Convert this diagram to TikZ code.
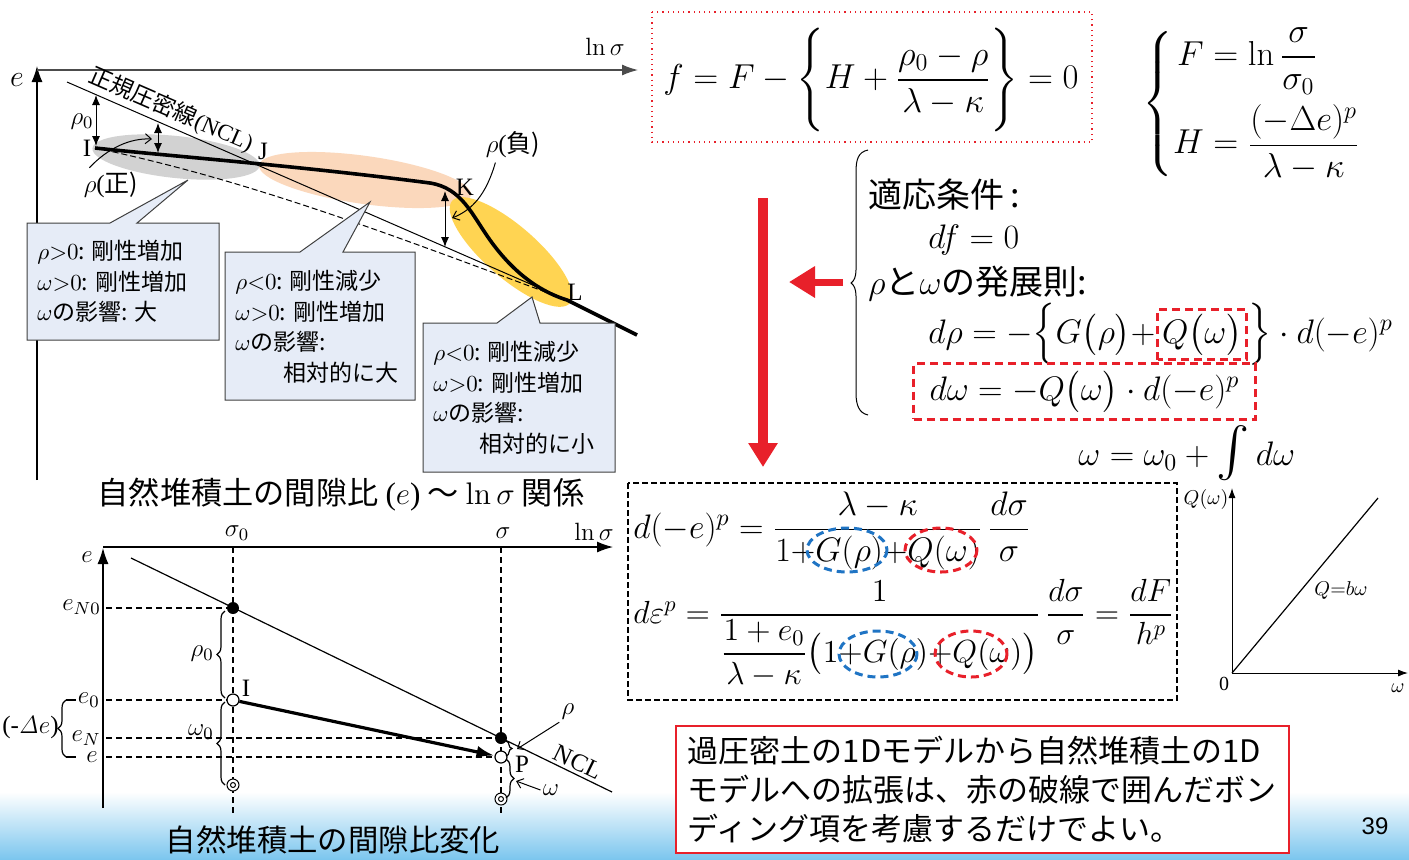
\RequirePackage{fix-cm}
\documentclass[tikz,border=0pt]{standalone}
\usepackage{amsmath}
\usepackage[no-math]{fontspec}
\setmainfont{Liberation Serif}
\newfontfamily\jp{Noto Sans CJK JP}
\newfontfamily\arial{Liberation Sans}
\usetikzlibrary{arrows.meta, positioning, calc, decorations.pathreplacing}
\definecolor{slidered}{HTML}{E8202A}
\definecolor{bondblue}{HTML}{1F74C4}
\definecolor{calloutblue}{HTML}{E6ECF7}
\definecolor{posgray}{HTML}{D2D2D2}
\definecolor{negpeach}{HTML}{FBD8BC}
\definecolor{softgold}{HTML}{FFD452}
\definecolor{bandblue}{HTML}{7CC6EE}
\tikzset{
  axisline/.style={line width=0.6pt, -{Latex[length=8pt,width=5.5pt]}},
  thinaxis/.style={line width=0.5pt, -{Latex[length=5pt,width=3.5pt]}},
  guide/.style={dash pattern=on 3pt off 2pt, line width=0.6pt},
  callout/.style={draw=black!75, fill=calloutblue, line width=0.5pt},
  calltext/.style={anchor=north west, align=left, inner sep=0pt, font=\jp\fontsize{11.5}{15.3}\selectfont},
  dimarrow/.style={line width=0.5pt, {Latex[length=5pt,width=4pt]}-{Latex[length=5pt,width=4pt]}},
  ptr/.style={line width=0.5pt, -{Straight Barb[length=3pt,width=5pt]}},
  lab/.style={font=\rmfamily\fontsize{12.5}{15}\selectfont, inner sep=1pt},
  smalllab/.style={font=\rmfamily\fontsize{10}{12}\selectfont, inner sep=1pt},
  eqn/.style={font=\jp\fontsize{17}{20}\selectfont, inner sep=0pt},
  eqbox/.style={font=\jp\fontsize{17}{20}\selectfont, inner sep=0pt},
  bondred/.style={draw=slidered, dash pattern=on 4pt off 2.5pt, line width=1.5pt},
  bondblu/.style={draw=bondblue, dash pattern=on 4pt off 2.5pt, line width=1.5pt},
  redarrow/.style={draw=slidered, line width=5pt, -{Triangle[length=12pt,width=14pt]}},
  dot/.style={circle, fill, inner sep=0pt, minimum size=6pt},
  hole/.style={circle, draw, fill=white, inner sep=0pt, minimum size=6pt, line width=0.6pt},
  curly/.style={decorate, decoration={brace, amplitude=4pt}, line width=0.6pt},
}
\begin{document}
\begin{tikzpicture}[x=0.5pt,y=-0.5pt,font=\jp]
\useasboundingbox (0,0) rectangle (1409,859);
\fill[white] (0,0) rectangle (1409,859);
\shade[top color=white, bottom color=bandblue] (0,792) rectangle (1409,859);

% ---- upper graph: e ~ ln sigma
\coordinate (ta0) at (37,70);
\coordinate (tyb) at (37,480);
\coordinate (tyt) at (37,66);
\coordinate (txr) at (638,70);
\draw[axisline] (tyb) -- (tyt);
\draw[axisline, draw=black!70] (ta0) -- (txr);
\node[lab, font=\fontsize{15}{17}\selectfont] (te) at (17,80) {$e$};
\node[lab] (tln) at (605,47) {$\ln\sigma$};

\fill[posgray, rotate around={-6:(176,157)}] (176,157) ellipse [x radius=84, y radius=21];
\fill[negpeach, rotate around={-8:(365,180)}] (365,180) ellipse [x radius=107, y radius=24];
\fill[softgold, rotate around={-41:(511,252)}] (511,252) ellipse [x radius=78, y radius=26];

\coordinate (I) at (95,148);
\coordinate (L) at (567,300);
\coordinate (nclA) at (67,82);
\coordinate (tend) at (637,335);
\draw[line width=0.5pt] (nclA) -- (L);
\draw[line width=0.5pt, dash pattern=on 3pt off 1.5pt] (I) .. controls (250,180) and (400,238) .. (L);
\draw[line width=1.8pt] (I) .. controls (180,157) and (300,166) .. (430,183)
  .. controls (462,188) and (472,215) .. (490,240)
  .. controls (510,268) and (535,290) .. (L) -- (tend);

\coordinate (d1a) at (96,95);  \coordinate (d1b) at (96,146);
\coordinate (d2a) at (158,123); \coordinate (d2b) at (158,153);
\coordinate (d3a) at (445,191); \coordinate (d3b) at (445,247);
\draw[dimarrow] (d1a) -- (d1b);
\draw[dimarrow] (d2a) -- (d2b);
\draw[dimarrow] (d3a) -- (d3b);

\node[rotate=-23.5, font=\jp\fontsize{11.5}{13}\selectfont, anchor=south, inner sep=1.5pt] (ncltext) at (165,124) {正規圧密線{\rmfamily (NCL)}};
\node[lab] (lI) at (87,148) {I};
\node[lab] (lJ) at (263,151) {J};
\node[lab] (lK) at (465,187) {K};
\node[lab] (lL) at (575,292) {L};
\node[lab] (lr0) at (82,122) {$\rho_0$};
\node[lab] (lrpos) at (111,185) {$\rho$(\jp 正)};
\node[lab] (lrneg) at (513,145) {$\rho$(\jp 負)};
\draw[ptr] (lrpos.north west) ++(8,-2) .. controls (108,148) and (130,138) .. (152,139);
\draw[ptr] (lrneg.south west) ++(12,2) .. controls (486,195) and (472,210) .. (452,218);

% callouts
\draw[callout] (27,223) -- (110,223) -- (188,180) -- (137,223) -- (219,223) -- (219,340) -- (27,340) -- cycle;
\draw[callout] (225,252) -- (300,252) -- (370,202) -- (343,252) -- (415,252) -- (415,400) -- (225,400) -- cycle;
\draw[callout] (423,323) -- (497,323) -- (532,297) -- (540,323) -- (615,323) -- (615,472) -- (423,472) -- cycle;
\node[calltext] (c1) at (37,240) {$\rho{>}0$: 剛性増加\\$\omega{>}0$: 剛性増加\\$\omega$の影響: 大};
\node[calltext] (c2) at (235,270) {$\rho{<}0$: 剛性減少\\$\omega{>}0$: 剛性増加\\$\omega$の影響:\\\hspace*{2.1em}相対的に大};
\node[calltext] (c3) at (433,341) {$\rho{<}0$: 剛性減少\\$\omega{>}0$: 剛性増加\\$\omega$の影響:\\\hspace*{2em}相対的に小};

\node[font=\jp\fontsize{15.6}{18}\selectfont] (title1) at (341,495) {自然堆積土の間隙比 {\rmfamily(}$e${\rmfamily)} 〜 $\ln\sigma$ 関係};

% ---- lower graph: void ratio change
\coordinate (bo) at (103,808);
\coordinate (byt) at (103,548);
\coordinate (bx0) at (103,547);
\coordinate (bxr) at (613,547);
\draw[axisline] (bo) -- (byt);
\draw[axisline] (bx0) -- (bxr);
\node[lab] (be) at (87,557) {$e$};
\node[lab] (bs0) at (237,533) {$\sigma_0$};
\node[lab] (bs) at (503,533) {$\sigma$};
\node[lab] (bln) at (594,532) {$\ln\sigma$};

\coordinate (v1t) at (233,547); \coordinate (v1b) at (233,815);
\coordinate (v2t) at (501,547); \coordinate (v2b) at (501,815);
\draw[guide] (v1t) -- (v1b);
\draw[guide] (v2t) -- (v2b);
\coordinate (ncl0) at (131,558);
\coordinate (ncl1) at (612,792);
\draw[line width=0.6pt] (ncl0) -- (ncl1);

\node[dot] (N0) at (233,608) {};
\node[dot] (N1) at (501,738) {};
\coordinate (h1) at (106,608); \coordinate (h2) at (106,700);
\coordinate (h3) at (106,738); \coordinate (h4) at (106,757);
\draw[guide] (h1) -- (N0);
\draw[guide] (h2) -- (233,700);
\draw[guide] (h3) -- (N1);
\draw[guide] (h4) -- (501,757);
\node[hole] (Ip) at (233,700) {};
\node[hole] (Pp) at (501,757) {};
\foreach \n/\p in {W0/{(233,785)}, W1/{(501,799)}}{
  \node[circle, draw, fill=white, inner sep=0pt, minimum size=6pt, line width=0.5pt] (\n) at \p {};
  \node[circle, draw, inner sep=0pt, minimum size=2.5pt, line width=0.5pt] at \p {};
}
\draw[line width=1.6pt, -{Latex[length=9pt,width=6pt]}] (Ip) -- (Pp);

\draw[curly] (225,698) -- (225,611);
\draw[curly] (225,785) -- (225,702);
\draw[curly] (66,757) -- (66,700);
\draw[line width=0.6pt] (66,700) -- (76,700) (66,757) -- (76,757);
\draw[curly, decoration={amplitude=3pt}] (506,741) -- (506,756);
\draw[curly] (506,759) -- (506,798);

\node[lab, anchor=east] (leN0) at (103,607) {$e_{N0}$};
\node[lab, anchor=east] (le0) at (102,700) {$e_0$};
\node[lab, anchor=east] (leN) at (103,738) {$e_N$};
\node[lab, anchor=east] (le) at (100,757) {$e$};
\node[lab, anchor=east] (lrho0) at (216,654) {$\rho_0$};
\node[lab, anchor=east] (lw0) at (216,732) {$\omega_0$};
\node[lab, anchor=east] (lde) at (61,727) {(-$\mathit{\Delta}e$)};
\node[lab] (lI2) at (246,688) {I};
\node[lab] (lP) at (522,764) {P};
\node[lab, rotate=-26] (lncl) at (578,762) {NCL};
\node[lab] (lrho) at (568,712) {$\rho$};
\node[lab] (lw) at (551,790) {$\omega$};
\draw[ptr] (lrho.south west) -- (517,749);
\draw[ptr] (lw.west) -- (516,781);

\node[font=\jp\fontsize{15.2}{18}\selectfont] (title2) at (333,840) {自然堆積土の間隙比変化};

% ---- yield function
\draw[slidered, dotted, line width=0.6pt] (652,12) rectangle (1092,142);
\node[font=\fontsize{17.3}{21}\selectfont, inner sep=0pt] (yield) at (871,80)
  {$f=F-\Biggl\{H+\dfrac{\rho_0-\rho}{\lambda-\kappa}\Biggr\}=0$};
\node[font=\fontsize{17.3}{20}\selectfont, anchor=west, inner sep=0pt] (FH) at (1142,104)
  {$\left\{\begin{aligned} F&=\ln\dfrac{\sigma}{\sigma_0}\\[1pt] H&=\dfrac{(-\Delta e)^p}{\lambda-\kappa}\end{aligned}\right.$};

% ---- consistency condition and evolution laws
\draw[line width=0.5pt] (868,150) .. controls (858,152) and (856,160) .. (856,172) -- (856,270)
  .. controls (856,277) and (854,281) .. (851,283) .. controls (854,285) and (856,289) .. (856,296)
  -- (856,393) .. controls (856,405) and (859,413) .. (868,415);
\node[font=\jp\fontsize{17}{20}\selectfont, anchor=base west, inner sep=0pt] (cond) at (868,207) {適応条件\,:};
\node[eqn, anchor=base west] (dfz) at (928,248) {$df=0$};
\node[font=\jp\fontsize{17}{20}\selectfont, anchor=base west, inner sep=0pt] (law) at (868,294) {$\rho$と$\omega$の発展則:};
\node[eqn, anchor=base west, inner sep=1pt] (drhoA) at (926,343) {$d\rho=-\Bigl\{G\bigl(\rho\bigr)+$};
\node[eqn, anchor=base west, inner sep=2pt] (qw) at (drhoA.base east) {$Q\bigl(\omega\bigr)$};
\node[eqn, anchor=base west, inner sep=1pt] (drhoB) at (qw.base east) {$\Bigr\}\cdot d(-e)^p$};
\draw[bondred] (qw.south west) rectangle (qw.north east);
\node[eqn, anchor=base west, bondred, inner xsep=8pt, inner ysep=3.5pt] (domega) at (912,400) {$d\omega=-Q\bigl(\omega\bigr)\cdot d(-e)^p$};
\node[eqn, anchor=base west] (wint) at (1078,465) {$\omega=\omega_0+\mbox{\fontsize{24}{26}\selectfont$\int$}\,d\omega$};

\coordinate (rv0) at (763,198); \coordinate (rv1) at (763,467);
\draw[redarrow] (rv0) -- (rv1);
\coordinate (rh0) at (843,282); \coordinate (rh1) at (789,282);
\draw[redarrow, line width=3.5pt, -{Triangle[length=13pt,width=15pt]}] (rh0) -- (rh1);

% ---- incremental relations
\draw[dash pattern=on 3pt off 1.5pt, line width=0.6pt] (628,483) rectangle (1177,700);
\node[eqbox, anchor=base west] (dep) at (633,538)
  {$d(-e)^p=\dfrac{\lambda-\kappa}{1{+}G(\rho){+}Q(\omega)}\,\dfrac{d\sigma}{\sigma}$};
\node[eqbox, font=\jp\fontsize{16}{19}\selectfont, anchor=base west] (deps) at (633,623)
  {$d\varepsilon^p=\dfrac{1}{\dfrac{1+e_0}{\lambda-\kappa}\bigl(1{+}G(\rho){+}Q(\omega)\bigr)}\,\dfrac{d\sigma}{\sigma}=\dfrac{dF}{h^p}$};
\draw[bondblu] (847,550) ellipse [x radius=40, y radius=22];
\draw[bondred] (941,550) ellipse [x radius=36, y radius=22];
\draw[bondblu] (878,654) ellipse [x radius=39, y radius=23];
\draw[bondred] (971,654) ellipse [x radius=36, y radius=23];

% ---- Q(omega) plot
\coordinate (qo) at (1232,673);
\coordinate (qy) at (1232,488);
\coordinate (qx) at (1408,673);
\coordinate (qe) at (1378,498);
\draw[thinaxis] (qo) -- (qy);
\draw[thinaxis] (qo) -- (qx);
\draw[line width=0.6pt] (qo) -- (qe);
\node[smalllab] (lq) at (1206,499) {$Q(\omega)$};
\node[smalllab] (lq0) at (1224,684) {0};
\node[smalllab] (lqw) at (1398,688) {$\omega$};
\node[smalllab] (lqb) at (1341,590) {$Q{=}b\omega$};

% ---- summary
\node[draw=slidered, fill=white, line width=0.8pt, anchor=north west, minimum width=306.5pt,
  minimum height=63.5pt, align=left, inner xsep=6pt, font=\jp\fontsize{15.5}{19.5}\selectfont] (summary) at (675,725)
  {過圧密土の1Dモデルから自然堆積土の1D\\モデルへの拡張は、赤の破線で囲んだボン\\ディング項を考慮するだけでよい。};
\node[font=\arial\fontsize{12}{14}\selectfont] (pageno) at (1375,826) {39};
\end{tikzpicture}
\end{document}
